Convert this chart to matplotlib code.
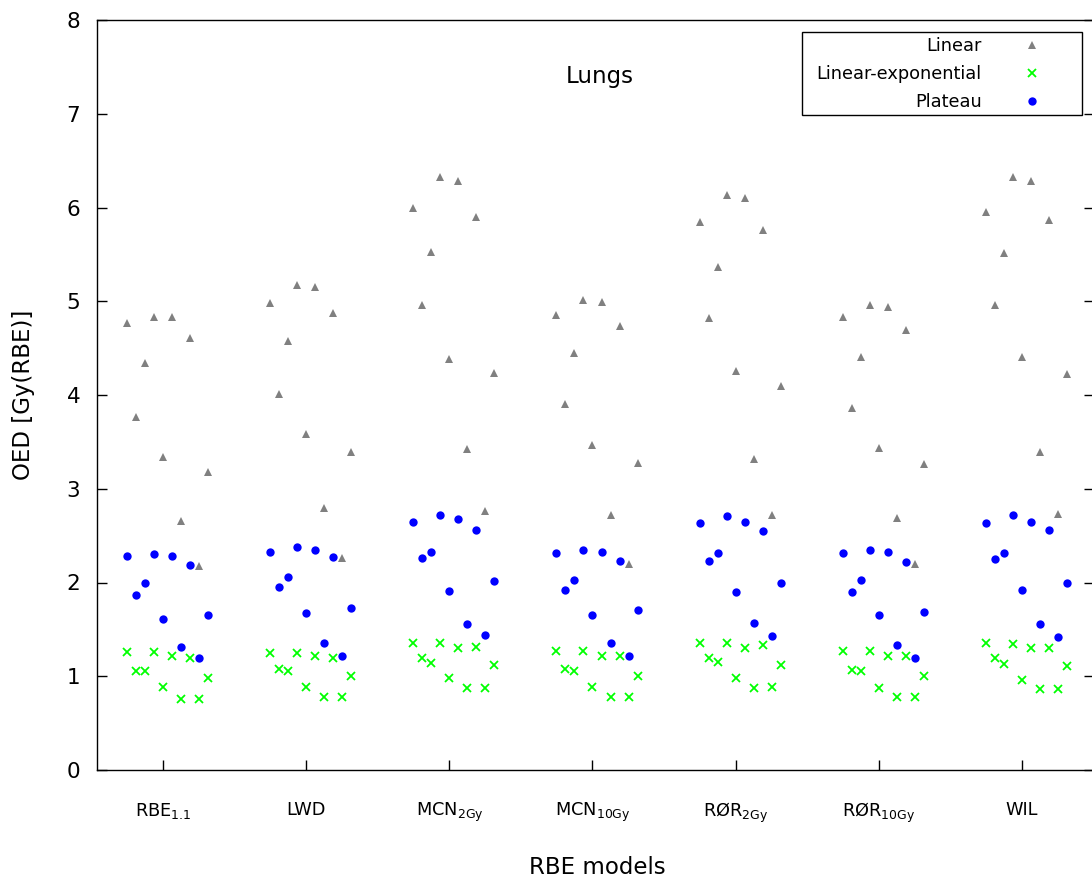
import matplotlib
matplotlib.use("Agg")
import matplotlib.pyplot as plt
from matplotlib.patches import Rectangle
import numpy as np

# RBE models on the x axis
models = [r"RBE$_{\mathrm{1.1}}$", "LWD", r"MCN$_{\mathrm{2Gy}}$",
          r"MCN$_{\mathrm{10Gy}}$", r"RØR$_{\mathrm{2Gy}}$",
          r"RØR$_{\mathrm{10Gy}}$", "WIL"]

# OED values, 10 patients per model, one list per dose-response model
linear = [
    [4.77, 3.77, 4.34, 4.83, 3.34, 4.83, 2.66, 4.61, 2.18, 3.18],
    [4.98, 4.01, 4.58, 5.17, 3.58, 5.15, 2.80, 4.87, 2.26, 3.39],
    [5.99, 4.96, 5.53, 6.33, 4.38, 6.28, 3.42, 5.90, 2.76, 4.23],
    [4.85, 3.90, 4.45, 5.01, 3.47, 4.99, 2.72, 4.74, 2.20, 3.28],
    [5.85, 4.82, 5.37, 6.13, 4.26, 6.10, 3.32, 5.76, 2.72, 4.10],
    [4.83, 3.86, 4.40, 4.96, 3.43, 4.94, 2.69, 4.69, 2.20, 3.26],
    [5.95, 4.96, 5.51, 6.33, 4.40, 6.28, 3.39, 5.87, 2.73, 4.22],
]
lin_exp = [
    [1.26, 1.06, 1.06, 1.26, 0.89, 1.22, 0.76, 1.19, 0.76, 0.98],
    [1.25, 1.08, 1.06, 1.25, 0.89, 1.22, 0.78, 1.20, 0.78, 1.00],
    [1.36, 1.20, 1.14, 1.36, 0.98, 1.30, 0.87, 1.31, 0.88, 1.12],
    [1.27, 1.08, 1.06, 1.27, 0.89, 1.22, 0.78, 1.22, 0.78, 1.00],
    [1.36, 1.20, 1.15, 1.36, 0.98, 1.30, 0.87, 1.33, 0.89, 1.12],
    [1.27, 1.07, 1.06, 1.27, 0.88, 1.22, 0.78, 1.22, 0.78, 1.00],
    [1.35, 1.20, 1.13, 1.34, 0.96, 1.30, 0.86, 1.30, 0.86, 1.11],
]
plateau = [
    [2.28, 1.87, 2.00, 2.30, 1.61, 2.28, 1.31, 2.19, 1.19, 1.65],
    [2.33, 1.95, 2.06, 2.38, 1.68, 2.35, 1.36, 2.27, 1.22, 1.73],
    [2.65, 2.26, 2.33, 2.72, 1.91, 2.68, 1.56, 2.56, 1.44, 2.02],
    [2.32, 1.92, 2.03, 2.35, 1.65, 2.33, 1.35, 2.23, 1.22, 1.71],
    [2.63, 2.23, 2.32, 2.71, 1.90, 2.65, 1.57, 2.55, 1.43, 2.00],
    [2.31, 1.90, 2.03, 2.35, 1.65, 2.33, 1.33, 2.22, 1.20, 1.69],
    [2.64, 2.25, 2.32, 2.72, 1.92, 2.65, 1.56, 2.56, 1.42, 2.00],
]

W, H = 1092, 881
fig = plt.figure(figsize=(W / 100, H / 100), dpi=100)
ax = fig.add_axes([97 / W, 111 / H, 997 / W, 750 / H])

# patients are spread out side by side around each model's tick
n_pat = len(linear[0])
spread = (np.arange(n_pat) - 4) * 0.063


def xs_for(group_vals):
    x, y = [], []
    for i, vals in enumerate(group_vals):
        x.extend(i + 1 + spread)
        y.extend(vals)
    return x, y


x, y = xs_for(linear)
ax.plot(x, y, ls="none", marker="^", ms=6, color="#808080", mew=0,
        label="Linear")
x, y = xs_for(lin_exp)
ax.plot(x, y, ls="none", marker="x", ms=6, color="#00ff00", mew=1.3,
        label="Linear-exponential")
x, y = xs_for(plateau)
ax.plot(x, y, ls="none", marker="o", ms=6, color="#0000ff", mew=0,
        label="Plateau")

ax.set_xlim(0.537, 7.505)
ax.set_ylim(0, 8)
ax.set_xticks(range(1, len(models) + 1))
ax.set_xticklabels(models)
ax.set_yticks(range(0, 9))

for s in ax.spines.values():
    s.set_linewidth(1.0)
ax.tick_params(axis="x", direction="in", length=7, width=1.0, pad=22,
               labelsize=12.8, top=False)
ax.tick_params(axis="y", direction="in", length=7, width=1.0, pad=12,
               labelsize=15.5, right=True)

ax.set_xlabel("RBE models", fontsize=16.5)
ax.xaxis.set_label_coords(0.5015, -0.13)
ax.xaxis.label.set_va("center")
ax.set_ylabel("OED [Gy(RBE)]", fontsize=16.5)
ax.yaxis.set_label_coords(-0.0742, 0.5)
ax.yaxis.label.set_va("center")

ax.text(0.5045, 0.924, "Lungs", transform=ax.transAxes, fontsize=16.5,
        ha="center", va="center")

# legend box is wider than the entries (gnuplot style), so frame drawn apart
box = Rectangle((802 / W, 1 - 115 / H), 280 / W, 83 / H,
                transform=fig.transFigure, facecolor="white",
                edgecolor="black", lw=1.0, zorder=4.9)
ax.add_patch(box)
leg = ax.legend(loc="upper right", bbox_to_anchor=(1082 / W, 1 - 32 / H),
                bbox_transform=fig.transFigure, borderaxespad=0,
                markerfirst=False, fontsize=12.8, frameon=False,
                borderpad=0.3, labelspacing=0.55, handlelength=5.0,
                handletextpad=0.35)
leg.set_zorder(5)

fig.savefig("out.png", dpi=100)
